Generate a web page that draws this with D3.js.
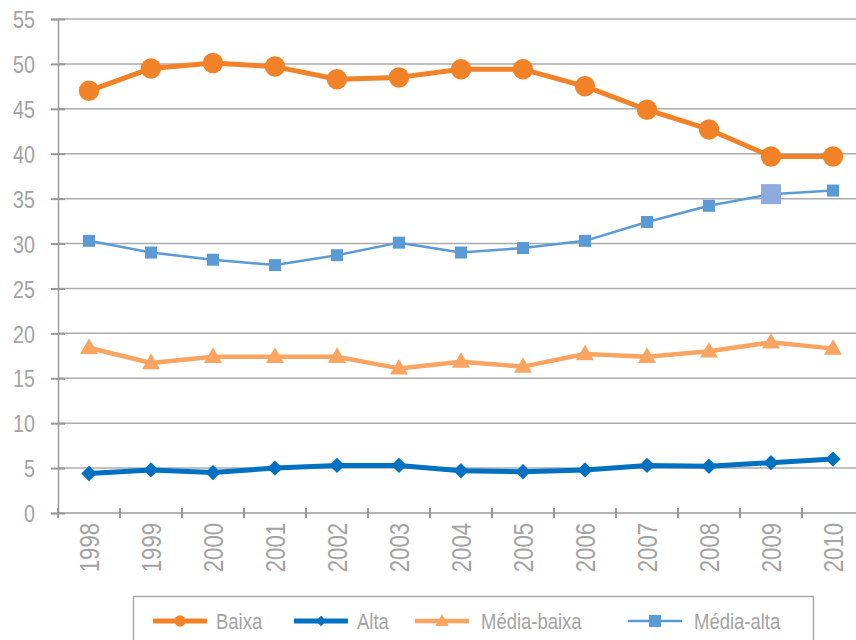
<!DOCTYPE html>
<html>
<head>
<meta charset="utf-8">
<script src="https://cdn.jsdelivr.net/npm/d3@7"></script>
<style>
  body { margin: 0; background: #fff; }
  svg text { font-family: "Liberation Sans Narrow", "Liberation Sans", Arial, sans-serif; fill: #a3a3a3; }
</style>
</head>
<body>
<svg id="chart" width="856" height="640"></svg>
<script>
"use strict";

var years = ["1998", "1999", "2000", "2001", "2002", "2003", "2004", "2005", "2006", "2007", "2008", "2009", "2010"];
var baixa = [47.0, 49.5, 50.1, 49.7, 48.3, 48.5, 49.4, 49.4, 47.5, 44.9, 42.7, 39.7, 39.7];
var alta = [4.4, 4.8, 4.5, 5.0, 5.3, 5.3, 4.7, 4.6, 4.8, 5.3, 5.2, 5.6, 6.0];
var mediaBaixa = [18.4, 16.7, 17.4, 17.4, 17.4, 16.1, 16.85, 16.3, 17.7, 17.4, 18.0, 19.0, 18.3];
var mediaAlta = [30.3, 29.0, 28.2, 27.6, 28.7, 30.1, 29.0, 29.5, 30.3, 32.4, 34.2, 35.5, 35.9];
var yTicks = [0, 5, 10, 15, 20, 25, 30, 35, 40, 45, 50, 55];
var highlightYear = "2009";

var series = [
  { name: "Baixa", values: baixa, color: "#f28227", width: 5, symbol: d3.symbolCircle, size: 330, legendSize: 100 },
  { name: "Alta", values: alta, color: "#0070c0", width: 5, symbol: d3.symbolDiamond2, size: 150, legendSize: 70 },
  { name: "Média-baixa", values: mediaBaixa, color: "#f9a460", width: 4.5, symbol: d3.symbolTriangle, size: 140, legendSize: 80 },
  { name: "Média-alta", values: mediaAlta, color: "#5b9bd5", width: 2.5, symbol: d3.symbolSquare, size: 144, legendSize: 144 }
];

// the reference font is condensed, squeeze the glyphs horizontally
var squeeze = 0.82;
var legendSqueeze = 0.84;

var svg = d3.select("#chart");
var plotLeft = 58, plotTop = 19, plotBottom = 513;

var x = d3.scaleBand()
    .domain(years)
    .range([plotLeft, plotLeft + 13 * 62]);

var y = d3.scaleLinear()
    .domain([0, 55])
    .range([plotBottom, plotTop]);

// gridlines
svg.append("g")
  .selectAll("line")
  .data(yTicks.filter(function(d) { return d > 0; }))
  .enter()
  .append("line")
  .attr("x1", plotLeft)
  .attr("x2", 856)
  .attr("y1", function(d) { return y(d); })
  .attr("y2", function(d) { return y(d); })
  .attr("stroke", "#ababab")
  .attr("stroke-width", 1.5);

// y axis
var yAxis = svg.append("g")
    .attr("transform", "translate(" + plotLeft + ",0)")
    .call(d3.axisLeft(y).tickValues(yTicks).tickSize(7));
yAxis.select(".domain").attr("stroke", "#9a9a9a").attr("stroke-width", 1.5);
yAxis.selectAll(".tick line").attr("stroke", "#9a9a9a").attr("stroke-width", 2).attr("x2", 7).attr("x1", -7);
yAxis.selectAll(".tick text")
  .attr("x", -23 / squeeze)
  .attr("dy", "0.36em")
  .attr("transform", "scale(" + squeeze + ",1)")
  .style("font-size", "24px");

// x axis
var xAxis = svg.append("g")
    .attr("transform", "translate(0," + plotBottom + ")")
    .call(d3.axisBottom(x).tickSize(0));
xAxis.select(".domain").remove();
svg.append("line")
  .attr("x1", plotLeft).attr("x2", 856)
  .attr("y1", plotBottom).attr("y2", plotBottom)
  .attr("stroke", "#9a9a9a").attr("stroke-width", 1.5);
svg.append("g")
  .selectAll("line")
  .data(years)
  .enter()
  .append("line")
  .attr("x1", function(d) { return x(d); })
  .attr("x2", function(d) { return x(d); })
  .attr("y1", plotBottom - 5)
  .attr("y2", plotBottom + 5)
  .attr("stroke", "#9a9a9a")
  .attr("stroke-width", 2);
xAxis.selectAll(".tick text")
  .attr("transform", "rotate(-90) scale(" + squeeze + ",1)")
  .attr("x", -10 / squeeze)
  .attr("y", 0)
  .attr("dy", "0.36em")
  .style("text-anchor", "end")
  .style("font-size", "27px");

var line = d3.line()
    .x(function(d, i) { return x(years[i]) + x.bandwidth() / 2; })
    .y(function(d) { return y(d); });

series.forEach(function(s) {
  var g = svg.append("g");
  g.append("path")
    .attr("d", line(s.values))
    .attr("fill", "none")
    .attr("stroke", s.color)
    .attr("stroke-width", s.width)
    .attr("stroke-linejoin", "round");
  g.selectAll("path.marker")
    .data(s.values)
    .enter()
    .append("path")
    .attr("class", "marker")
    .attr("d", function(d, i) {
      var big = s.symbol === d3.symbolSquare && years[i] === highlightYear;
      return d3.symbol().type(s.symbol).size(big ? 400 : s.size)();
    })
    .attr("fill", function(d, i) {
      return (s.symbol === d3.symbolSquare && years[i] === highlightYear) ? "#8faadc" : s.color;
    })
    .attr("transform", function(d, i) {
      var dy = s.symbol === d3.symbolTriangle ? 1 : 0;
      return "translate(" + (x(years[i]) + x.bandwidth() / 2) + "," + (y(d) + dy) + ")";
    });
});

// legend
svg.append("rect")
  .attr("x", 133.5)
  .attr("y", 596.5)
  .attr("width", 680)
  .attr("height", 60)
  .attr("fill", "none")
  .attr("stroke", "#ababab")
  .attr("stroke-width", 1.5);

var legendX = [153, 294, 415, 628];
var legendY = 621;
series.forEach(function(s, i) {
  var lg = svg.append("g").attr("transform", "translate(" + legendX[i] + "," + legendY + ")");
  lg.append("line")
    .attr("x1", 0).attr("x2", 54)
    .attr("stroke", s.color)
    .attr("stroke-width", s.width);
  lg.append("path")
    .attr("d", d3.symbol().type(s.symbol).size(s.legendSize)())
    .attr("transform", "translate(27," + (s.symbol === d3.symbolTriangle ? 1 : 0) + ")")
    .attr("fill", s.color);
  lg.append("text")
    .attr("transform", "translate(" + (i < 2 ? 63 : 66) + ",0) scale(" + legendSqueeze + ",1)")
    .attr("dy", "0.36em")
    .style("font-size", "22px")
    .text(s.name);
});
</script>
</body>
</html>
